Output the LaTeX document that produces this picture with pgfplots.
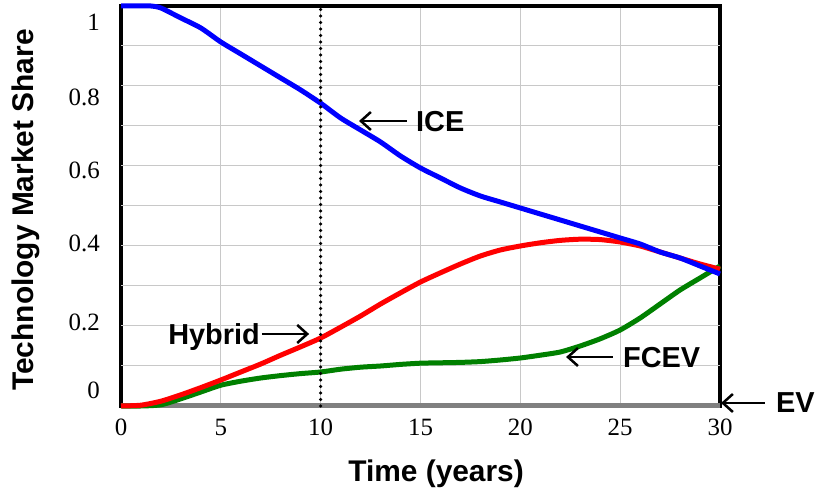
\documentclass[border=0pt]{standalone}
\usepackage{fontspec}
\setmainfont{Liberation Serif}
\newfontfamily\arialb{Liberation Sans}[BoldFont={* Bold}]
\usepackage{pgfplots}
\pgfplotsset{compat=1.18}
\usetikzlibrary{arrows.meta}
\definecolor{gridgray}{RGB}{200,200,200}
\definecolor{evgray}{RGB}{128,128,128}
\definecolor{fcgreen}{RGB}{0,128,0}
\begin{document}
\begin{tikzpicture}[x=1bp,y=1bp]
\path[use as bounding box] (0,0) rectangle (817,490);
\begin{axis}[
  at={(121bp,84bp)}, anchor=south west,
  width=599bp, height=400bp, scale only axis,
  xmin=0, xmax=30, ymin=0, ymax=1,
  clip=false,
  axis line style={line width=3.5bp, black},
  /pgf/number format/assume math mode=true,
  xtick={0,5,...,30},
  xmajorgrids,
  grid style={gridgray, line width=1bp},
  major tick length=0pt,
  ytick={0.04,0.21,0.4075,0.59,0.7725,0.96},
  yticklabels={0,0.2,0.4,0.6,0.8,1},
  extra y ticks={0.1,0.2,0.3,0.4,0.5,0.6,0.7,0.8,0.9},
  extra y tick labels={},
  extra y tick style={ymajorgrids=true, major tick length=0pt},
  ticklabel style={font=\fontsize{25}{25}\selectfont},
  xticklabel style={anchor=base, inner sep=0pt, yshift=-30bp},
  yticklabel style={anchor=east, inner sep=0pt, xshift=-21bp},
  xlabel={\arialb\bfseries Time (years)},
  ylabel={\arialb\bfseries Technology Market Share},
  xlabel style={at={(axis description cs:0.526,0)}, anchor=base, yshift=-76bp, inner sep=0pt, font=\fontsize{30}{30}\selectfont},
  ylabel style={at={(axis description cs:-0.146,0.49)}, anchor=base, inner sep=0pt, font=\fontsize{30}{30}\selectfont},
]
% EV
\addplot[evgray, line width=5bp] coordinates {(0,0) (30,0)};
% FCEV
\addplot[fcgreen, line width=5bp, smooth, tension=0.4] coordinates {
(0,0) (1,0) (2,0.003) (3,0.018) (4,0.035) (5,0.052) (6,0.062) (7,0.07) (8,0.076) (9,0.081) (10,0.085)
(11,0.092) (12,0.097) (13,0.1) (14,0.104) (15,0.107) (16,0.108) (17,0.109) (18,0.111) (19,0.115) (20,0.12)
(21,0.127) (22,0.135) (23,0.15) (24,0.168) (25,0.19) (26,0.22) (27,0.255) (28,0.29) (29,0.32) (30,0.35)};
% Hybrid
\addplot[red, line width=5bp, smooth, tension=0.4] coordinates {
(0,0) (1,0.002) (2,0.012) (3,0.028) (4,0.046) (5,0.065) (6,0.085) (7,0.105) (8,0.127) (9,0.148) (10,0.17)
(11,0.197) (12,0.225) (13,0.255) (14,0.283) (15,0.31) (16,0.333) (17,0.355) (18,0.375) (19,0.39) (20,0.4)
(21,0.408) (22,0.414) (23,0.417) (24,0.416) (25,0.41) (26,0.4) (27,0.385) (28,0.37) (29,0.355) (30,0.342)};
% ICE
\addplot[blue, line width=5bp, smooth, tension=0.4] coordinates {
(0,1) (1,1) (1.5,1) (2,0.995) (3,0.97) (4,0.945) (5,0.91) (6,0.88) (7,0.85) (8,0.82) (9,0.79) (10,0.757)
(11,0.72) (12,0.69) (13,0.66) (14,0.625) (15,0.595) (16,0.57) (17,0.545) (18,0.525) (19,0.51) (20,0.495)
(21,0.48) (22,0.465) (23,0.45) (24,0.435) (25,0.42) (26,0.405) (27,0.385) (28,0.37) (29,0.35) (30,0.33)};
% dotted line at t = 10
\addplot[black, line width=3.5bp, line cap=round, dash pattern=on 0pt off 6.5bp] coordinates {(10,0) (10,1)};
% annotations
\draw[line width=2.5bp, -{Straight Barb[length=10bp,width=18bp]}] (axis cs:14.32,0.7125) -- (axis cs:11.92,0.7125);
\node[anchor=base west, inner sep=0pt, font=\fontsize{29}{29}\selectfont\arialb\bfseries] at (axis cs:14.77,0.685) {ICE};
\draw[line width=2.5bp, -{Straight Barb[length=10bp,width=18bp]}] (axis cs:7.06,0.18) -- (axis cs:9.42,0.18);
\node[anchor=base east, inner sep=0pt, font=\fontsize{29}{29}\selectfont\arialb\bfseries] at (axis cs:6.96,0.1525) {Hybrid};
\draw[line width=2.5bp, -{Straight Barb[length=10bp,width=18bp]}] (axis cs:24.64,0.1225) -- (axis cs:22.29,0.1225);
\node[anchor=base west, inner sep=0pt, font=\fontsize{29}{29}\selectfont\arialb\bfseries] at (axis cs:25.14,0.095) {FCEV};
\draw[line width=2.5bp, -{Straight Barb[length=10bp,width=18bp]}] (axis cs:32.25,0.0075) -- (axis cs:30.05,0.0075);
\node[anchor=base west, inner sep=0pt, font=\fontsize{29}{29}\selectfont\arialb\bfseries] at (axis cs:32.8,-0.0175) {EV};
\end{axis}
\end{tikzpicture}
\end{document}
